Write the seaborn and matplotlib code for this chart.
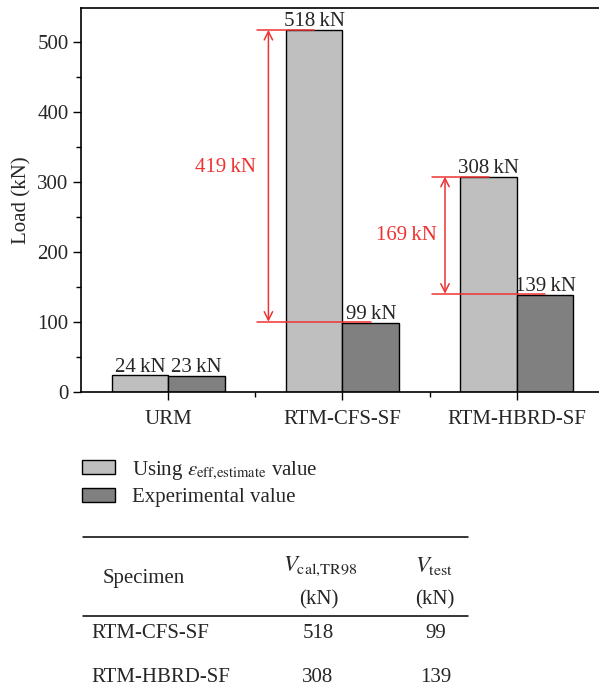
import matplotlib
matplotlib.use("Agg")
import matplotlib.pyplot as plt
from matplotlib.lines import Line2D
from matplotlib.patches import Patch
import seaborn as sns
import pandas as pd

categories = ["URM", "RTM-CFS-SF", "RTM-HBRD-SF"]
series_names = ["Using estimate", "Experimental value"]
estimate_vals = [24, 518, 308]
experimental_vals = [23, 99, 139]
table_specimens = ["RTM-CFS-SF", "RTM-HBRD-SF"]
table_vcal = [518, 308]
table_vtest = [99, 139]

light = "#bfbfbf"
dark = "#808080"
red = "#ee3333"
FS = 15

sns.set_style("white")
plt.rcParams["font.family"] = ["Liberation Serif", "DejaVu Serif"]
plt.rcParams["mathtext.fontset"] = "stix"

df = pd.DataFrame({
    "category": categories * 2,
    "series": [series_names[0]] * 3 + [series_names[1]] * 3,
    "value": estimate_vals + experimental_vals,
})

W, H = 599, 686
fig = plt.figure(figsize=(W / 100, H / 100), dpi=100)
ax = fig.add_axes([81 / W, 1 - 392 / H, (604 - 81) / W, (392 - 7.5) / H])

sns.barplot(data=df, x="category", y="value", hue="series",
            palette=[light, dark], edgecolor="black", linewidth=1.0,
            width=0.65, legend=False, ax=ax, saturation=1)

ax.set_xlim(-0.5, 2.5)
ax.set_ylim(0, 550)
ax.set_yticks([0, 100, 200, 300, 400, 500])
ax.set_yticks([50, 150, 250, 350, 450], minor=True)
ax.set_xticks([0.5, 1.5], minor=True)
ax.set_xlabel("")
ax.set_ylabel("Load (kN)", fontsize=FS, labelpad=4)
ax.tick_params(axis="both", which="major", direction="out", length=6, width=1,
               labelsize=FS, left=True, bottom=True, color="black")
ax.tick_params(axis="both", which="minor", direction="out", length=3.5, width=1,
               left=True, bottom=True, color="black")
ax.tick_params(axis="x", which="major", pad=7)
ax.tick_params(axis="y", which="major", pad=3)
for s in ax.spines.values():
    s.set_color("black")
    s.set_linewidth(1.2)

# value labels
for cont, vals in zip(ax.containers, [estimate_vals, experimental_vals]):
    ax.bar_label(cont, labels=[f"{v}\u2009kN" for v in vals], fontsize=FS,
                 padding=-1)

# red difference annotations
bw = 0.325
arrow_off = {1: 0.10, 2: 0.087}
text_gap = {1: 0.07, 2: 0.045}
text_dy = {1: 13, 2: 1}
for i in [1, 2]:
    top = estimate_vals[i]
    bot = experimental_vals[i] + 1.5
    left = i - bw - 0.163
    ax.plot([left, i - bw + 0.163], [top, top], color=red, lw=1.1)
    ax.plot([left, i + 0.162], [bot, bot], color=red, lw=1.1)
    xa = i - bw - arrow_off[i]
    ax.annotate("", xy=(xa, top), xytext=(xa, bot),
                arrowprops=dict(arrowstyle="<->", color=red, lw=1.1,
                                shrinkA=0, shrinkB=0, mutation_scale=15))
    ax.text(xa - text_gap[i], (estimate_vals[i] + experimental_vals[i]) / 2 + text_dy[i],
            f"{estimate_vals[i] - experimental_vals[i]}\u2009kN", color=red,
            fontsize=FS, ha="right", va="center")

# legend
handles = [Patch(facecolor=light, edgecolor="black", linewidth=1.0),
           Patch(facecolor=dark, edgecolor="black", linewidth=1.0)]
labels = [r"Using $\varepsilon_{\mathrm{eff{,}estimate}}$ value", "Experimental value"]
fig.legend(handles, labels, loc="upper left",
           bbox_to_anchor=(82 / W, 1 - 459 / H), frameon=False, fontsize=FS,
           handlelength=1.6, handleheight=0.65, handletextpad=0.8,
           labelspacing=0.3, borderpad=0, borderaxespad=0)

# table
def fx(px):
    return px / W

def fy(py):
    return 1 - py / H

fig.add_artist(Line2D([fx(83), fx(468)], [fy(537), fy(537)], color="black", lw=1.1))
fig.add_artist(Line2D([fx(83), fx(468)], [fy(616), fy(616)], color="black", lw=1.1))
fig.text(fx(103), fy(578), "Specimen", fontsize=FS, ha="left", va="center")
fig.text(fx(320), fy(566), r"$V_{\mathrm{cal{,}TR98}}$", fontsize=16.5, ha="center", va="center")
fig.text(fx(319), fy(600), "(kN)", fontsize=FS, ha="center", va="center")
fig.text(fx(434), fy(566), r"$V_{\mathrm{test}}$", fontsize=16.5, ha="center", va="center")
fig.text(fx(435), fy(600), "(kN)", fontsize=FS, ha="center", va="center")
for k, (name, vc, vt) in enumerate(zip(table_specimens, table_vcal, table_vtest)):
    yy = 633 + 45 * k
    fig.text(fx(91), fy(yy), name, fontsize=FS, ha="left", va="center")
    fig.text(fx(318), fy(yy), f"{vc}", fontsize=FS, ha="center", va="center")
    fig.text(fx(436), fy(yy), f"{vt}", fontsize=FS, ha="center", va="center")

fig.savefig("out.png", dpi=100)
